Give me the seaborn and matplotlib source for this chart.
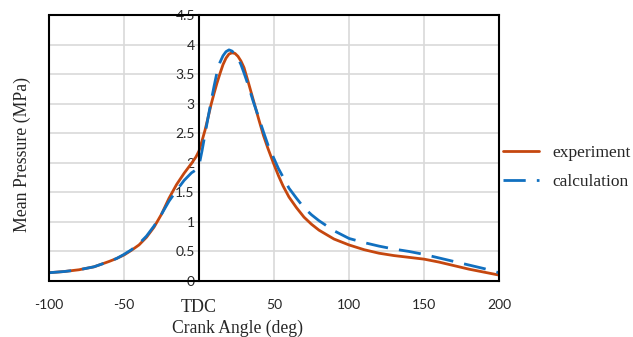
import pandas as pd
import seaborn as sns
from matplotlib import pyplot as plt

# crank angle (deg) and mean pressure (MPa)
angle = [-100, -90, -80, -70, -60, -55, -50, -45, -40, -35, -30, -25, -20, -15, -10, -5, -2, 0,
         2, 4, 6, 8, 10, 12, 14, 16, 18, 20, 22, 24, 26, 28, 30, 33, 36, 40, 43, 46, 50, 53, 56,
         60, 65, 70, 75, 80, 90, 100, 110, 120, 130, 140, 150, 160, 170, 180, 190, 200]
experiment = [0.14, 0.16, 0.19, 0.24, 0.33, 0.38, 0.44, 0.52, 0.61, 0.74, 0.91, 1.13, 1.40, 1.63, 1.82, 1.99, 2.10, 2.20,
              2.37, 2.55, 2.76, 2.98, 3.17, 3.35, 3.51, 3.66, 3.77, 3.84, 3.86, 3.85, 3.80, 3.72, 3.61, 3.35, 3.08, 2.72, 2.46, 2.24, 1.97, 1.78, 1.61,
              1.42, 1.24, 1.08, 0.96, 0.86, 0.71, 0.61, 0.53, 0.47, 0.43, 0.40, 0.37, 0.32, 0.26, 0.20, 0.15, 0.10]
calculation = [0.14, 0.16, 0.19, 0.24, 0.33, 0.38, 0.45, 0.53, 0.63, 0.76, 0.93, 1.13, 1.35, 1.53, 1.70, 1.83, 1.88, 1.95,
               2.2, 2.48, 2.76, 3.03, 3.29, 3.53, 3.70, 3.81, 3.88, 3.91, 3.89, 3.84, 3.77, 3.66, 3.52, 3.30, 3.05, 2.75, 2.52, 2.30, 2.07, 1.90, 1.76,
               1.57, 1.40, 1.24, 1.12, 1.02, 0.85, 0.72, 0.65, 0.59, 0.54, 0.50, 0.45, 0.39, 0.33, 0.27, 0.21, 0.14]

x_ticks = [-100, -50, 0, 50, 100, 150, 200]
x_labels = ["-100", "-50", "TDC", "50", "100", "150", "200"]
y_ticks = [0, 0.5, 1, 1.5, 2, 2.5, 3, 3.5, 4, 4.5]
y_labels = ["0", "0.5", "1", "1.5", "2", "2.5", "3", "3.5", "4", "4.5"]

dane = pd.DataFrame({"angle": angle, "experiment": experiment, "calculation": calculation})

sns.set_style("white")
plt.rcParams["font.family"] = ["Lato", "DejaVu Sans"]
serif = "Liberation Serif"

fig = plt.figure(figsize=(6.33, 3.37), dpi=100)
ax = fig.add_axes([49 / 633, 56 / 337, 450 / 633, 266 / 337])

sns.lineplot(data=dane, x="angle", y="experiment", color="#c5470f", lw=2, ax=ax,
             label="experiment", zorder=3)
sns.lineplot(data=dane, x="angle", y="calculation", color="#1170c0", lw=2, ax=ax,
             label="calculation", zorder=4)
ax.lines[1].set_dashes([8, 4])

ax.set_xlim(-100, 200)
ax.set_ylim(0, 4.5)
ax.set_xticks(x_ticks)
ax.set_xticklabels(x_labels, fontsize=10)
ax.set_yticks(y_ticks)
ax.set_yticklabels(y_labels, fontsize=10)
ax.get_xticklabels()[2].set_fontfamily(serif)
ax.get_xticklabels()[2].set_fontsize(13)
ax.grid(True, color="#d9d9d9", lw=1.2)
ax.tick_params(length=0)
ax.tick_params(axis="x", pad=13)
ax.tick_params(axis="y", pad=3)

# y axis sits on TDC, full box kept around the plot
ax.spines["left"].set_position(("data", 0))
for s in ax.spines.values():
    s.set_color("black")
    s.set_linewidth(1.5)
    s.set_zorder(5)
ax.axvline(-100, color="black", lw=1.5, clip_on=False, zorder=5)

ax.set_xlabel("Crank Angle (deg)", fontfamily=serif, fontsize=12.7)
ax.xaxis.set_label_coords(0.42, -0.147)
ax.set_ylabel("Mean Pressure (MPa)", fontfamily=serif, fontsize=12.8)
ax.yaxis.set_label_coords(-0.040, 0.474)

ax.legend(loc="upper left", bbox_to_anchor=(503 / 633, 1 - 145 / 337),
          bbox_transform=fig.transFigure, frameon=False, borderpad=0, borderaxespad=0,
          prop={"family": serif, "size": 12.5}, handlelength=2.1, handletextpad=0.75,
          labelspacing=0.75)

fig.savefig("out.png", dpi=100)
